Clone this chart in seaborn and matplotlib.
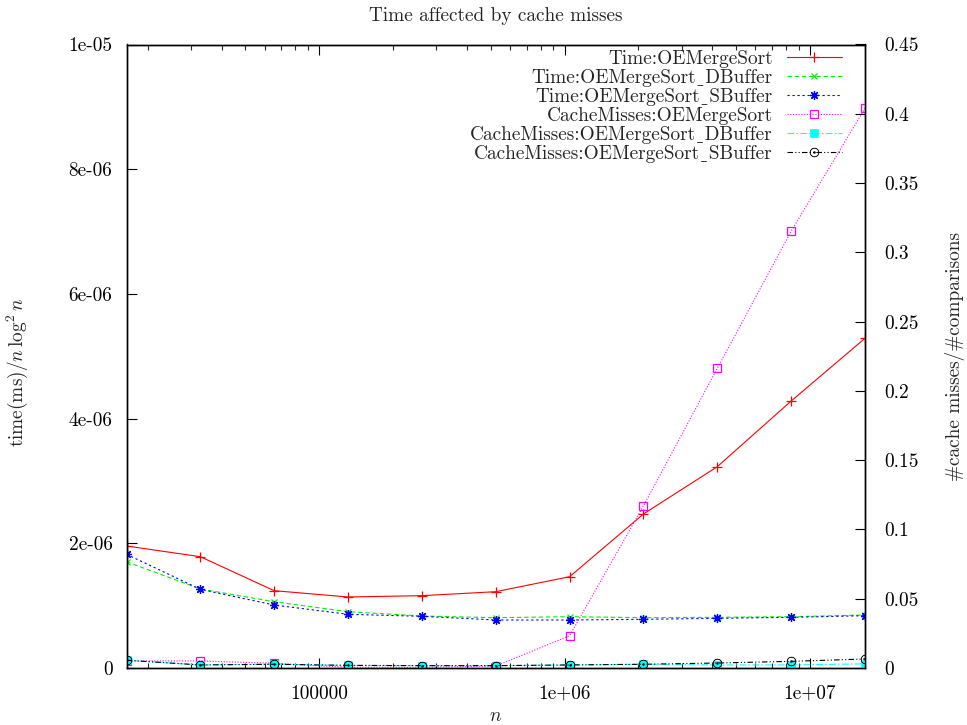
import numpy as np
import pandas as pd
import matplotlib
matplotlib.use("Agg")
import matplotlib.pyplot as plt
import seaborn as sns
from matplotlib.ticker import FixedLocator, FixedFormatter, NullFormatter

# problem sizes n = 2^14 .. 2^24
n_values = [2 ** k for k in range(14, 25)]

# time(ms) / (n log^2 n)
time_oems = [1.957e-6, 1.785e-6, 1.24e-6, 1.139e-6, 1.16e-6, 1.224e-6,
             1.464e-6, 2.47e-6, 3.229e-6, 4.282e-6, 5.288e-6]
time_dbuf = [1.705e-6, 1.267e-6, 1.063e-6, 0.903e-6, 0.834e-6, 0.807e-6,
             0.823e-6, 0.807e-6, 0.813e-6, 0.823e-6, 0.85e-6]
time_sbuf = [1.824e-6, 1.262e-6, 1.01e-6, 0.861e-6, 0.829e-6, 0.77e-6,
             0.77e-6, 0.781e-6, 0.797e-6, 0.813e-6, 0.839e-6]

# cache misses / comparisons
miss_oems = [0.0051, 0.0051, 0.0034, 0.0005, 0.0005, 0.0014,
             0.0233, 0.117, 0.2163, 0.3152, 0.404]
miss_dbuf = [0.0056, 0.0022, 0.0027, 0.0019, 0.0017, 0.0017,
             0.0022, 0.0027, 0.0022, 0.0022, 0.003]
miss_sbuf = [0.0056, 0.0022, 0.0027, 0.0019, 0.0017, 0.0017,
             0.0022, 0.0027, 0.0036, 0.0048, 0.0065]

# cmr10 has no underscore glyph, so a low line from DejaVu Serif stands in for it
US = "\u02cd"
series_names = ["Time:OEMergeSort", f"Time:OEMergeSort{US}DBuffer",
                f"Time:OEMergeSort{US}SBuffer", "CacheMisses:OEMergeSort",
                f"CacheMisses:OEMergeSort{US}DBuffer",
                f"CacheMisses:OEMergeSort{US}SBuffer"]

x_major = [1e5, 1e6, 1e7]
x_major_labels = ["100000", "1e+06", "1e+07"]
y_ticks = [0, 2e-6, 4e-6, 6e-6, 8e-6, 1e-5]
y_tick_labels = ["0", "2e-06", "4e-06", "6e-06", "8e-06", "1e-05"]
y2_ticks = [0, 0.05, 0.1, 0.15, 0.2, 0.25, 0.3, 0.35, 0.4, 0.45]
y2_tick_labels = ["0", "0.05", "0.1", "0.15", "0.2", "0.25", "0.3", "0.35", "0.4", "0.45"]

sns.set_theme(style="ticks")
plt.rcParams["font.family"] = ["cmr10", "DejaVu Serif"]
plt.rcParams["mathtext.fontset"] = "cm"
plt.rcParams["axes.unicode_minus"] = False
plt.rcParams["axes.formatter.use_mathtext"] = True

FS = 13.9

fig = plt.figure(figsize=(9.67, 7.25), dpi=100)
ax = fig.add_axes([126.5 / 967, 1 - 668 / 725, (865 - 126.5) / 967, (668 - 44.5) / 725])
ax2 = ax.twinx()

df = pd.DataFrame({"n": n_values, "t0": time_oems, "t1": time_dbuf, "t2": time_sbuf,
                   "m0": miss_oems, "m1": miss_dbuf, "m2": miss_sbuf})

lw = 0.8
common = dict(estimator=None, errorbar=None, sort=False, legend=False, linewidth=lw)

sns.lineplot(data=df, x="n", y="t0", ax=ax, color="#ff0000", linestyle="-",
             marker="+", markersize=6.5, markeredgewidth=0.9, markeredgecolor="#ff0000",
             label=series_names[0], **common)
sns.lineplot(data=df, x="n", y="t1", ax=ax, color="#00f000", linestyle=(0, (4, 2.5)),
             marker="x", markersize=5, markeredgewidth=0.9, markeredgecolor="#00f000",
             label=series_names[1], **common)
sns.lineplot(data=df, x="n", y="t2", ax=ax, color="#0000ff", linestyle=(0, (2, 2.5)),
             marker=(8, 2, 0), markersize=6.5, markeredgewidth=0.9, markeredgecolor="#0000ff",
             label=series_names[2], **common)
sns.lineplot(data=df, x="n", y="m0", ax=ax2, color="#ff00ff", linestyle=(0, (1, 1.5)),
             marker="s", markersize=5.5, markeredgewidth=0.9, markeredgecolor="#ff00ff",
             markerfacecolor="none", label=series_names[3], **common)
sns.lineplot(data=df, x="n", y="m1", ax=ax2, color="#00ffff", linestyle=(0, (6, 2, 1.5, 2)),
             marker="s", markersize=5.5, markeredgewidth=0.5, markeredgecolor="#00ffff",
             markerfacecolor="#00ffff", label=series_names[4], **common)
sns.lineplot(data=df, x="n", y="m2", ax=ax2, color="#000000", linestyle=(0, (5, 2, 1, 2, 1, 2)),
             marker=r"$\odot$", markersize=6.5, markeredgewidth=0.3, markeredgecolor="#000000",
             label=series_names[5], **common)

# axes ranges and scales
ax.set_xscale("log")
ax.set_xlim(n_values[0], n_values[-1])
ax.set_ylim(y_ticks[0], y_ticks[-1])
ax2.set_ylim(y2_ticks[0], y2_ticks[-1])

minor = [m * 10 ** e for e in range(4, 8) for m in range(2, 10)]
ax.xaxis.set_major_locator(FixedLocator(x_major))
ax.xaxis.set_major_formatter(FixedFormatter(x_major_labels))
ax.xaxis.set_minor_locator(FixedLocator(minor))
ax.xaxis.set_minor_formatter(NullFormatter())
ax.yaxis.set_major_locator(FixedLocator(y_ticks))
ax.yaxis.set_major_formatter(FixedFormatter(y_tick_labels))
ax.yaxis.set_minor_locator(FixedLocator([]))
ax2.yaxis.set_major_locator(FixedLocator(y2_ticks))
ax2.yaxis.set_major_formatter(FixedFormatter(y2_tick_labels))
ax2.yaxis.set_minor_locator(FixedLocator([]))

ax.tick_params(axis="x", which="major", direction="in", length=7.5, width=0.8,
               top=True, bottom=True, labelsize=FS, pad=12, colors="black")
ax.tick_params(axis="x", which="minor", direction="in", length=3.8, width=0.8,
               top=True, bottom=True)
ax.tick_params(axis="y", which="major", direction="in", length=7.5, width=0.8,
               left=True, right=False, labelsize=FS, pad=10, colors="black")
ax2.tick_params(axis="y", which="major", direction="in", length=7.5, width=0.8,
                right=True, left=False, labelsize=FS, pad=13.5, colors="black")

for a in (ax, ax2):
    for s in a.spines.values():
        s.set_visible(True)
        s.set_linewidth(1.0)
        s.set_color("black")

ax.set_xlabel("$n$", fontsize=FS, labelpad=3)
ax.set_ylabel(r"time(ms)$/n\,\log^2 n$", fontsize=FS)
ax.yaxis.set_label_coords(-0.131, 0.475)
ax2.set_ylabel("#cache misses/#comparisons", fontsize=FS, rotation=90)
ax2.yaxis.set_label_coords(1.109, 0.5)
ax.set_title("Time affected by cache misses", fontsize=FS, pad=17)

h1, l1 = ax.get_legend_handles_labels()
h2, l2 = ax2.get_legend_handles_labels()
ax2.legend(h1 + h2, l1 + l2, loc="upper right", bbox_to_anchor=(842 / 967, 1 - 50 / 725),
           bbox_transform=fig.transFigure, frameon=False, markerfirst=False,
           borderpad=0, borderaxespad=0, handlelength=2.85, handletextpad=0.75,
           labelspacing=0.05, fontsize=FS)

fig.savefig("out.png", dpi=100, facecolor="white")
